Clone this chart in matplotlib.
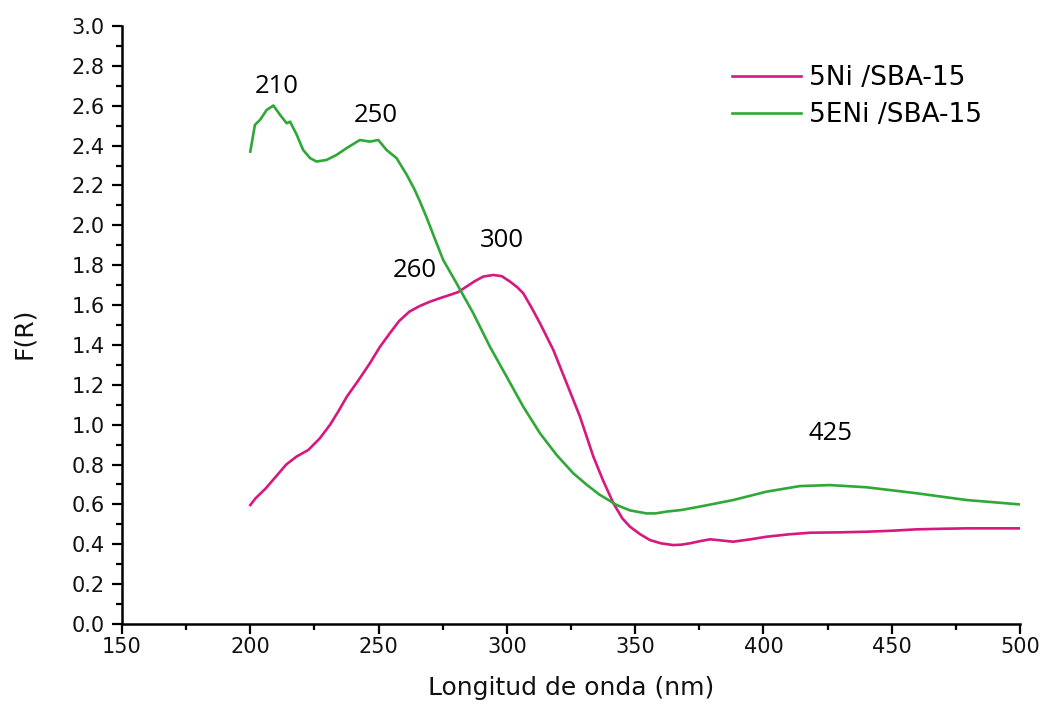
import matplotlib
matplotlib.use("Agg")
import matplotlib.pyplot as plt
from matplotlib.ticker import MultipleLocator, FormatStrFormatter

# Wavelength (nm) and Kubelka-Munk function F(R) for each sample
wl_ni = [200, 202, 206, 210, 214, 218, 222.6, 227, 231, 234, 237.6, 242, 246.6,
         250.5, 254.4, 258, 262, 266, 270, 274, 277.8, 281, 284.3, 287.5, 290.8,
         294.7, 298, 301.2, 304, 306.4, 309.5, 312.9, 318.1, 323.3, 328.5, 333.7,
         337.5, 341.5, 345, 348, 352, 355.8, 360, 364.9, 368, 371.4, 375, 379.2,
         383, 388.2, 395, 401.2, 410, 418.1, 430, 440.2, 450, 459.7, 470, 479.2,
         490, 500]
fr_ni = [0.597, 0.63, 0.68, 0.74, 0.80, 0.84, 0.873, 0.93, 0.998, 1.06, 1.14, 1.22,
         1.308, 1.39, 1.459, 1.52, 1.567, 1.595, 1.617, 1.635, 1.651, 1.665, 1.693,
         1.72, 1.743, 1.751, 1.745, 1.718, 1.69, 1.659, 1.59, 1.509, 1.375, 1.208,
         1.04, 0.84, 0.72, 0.606, 0.53, 0.488, 0.45, 0.421, 0.405, 0.396, 0.398,
         0.405, 0.415, 0.425, 0.42, 0.413, 0.425, 0.438, 0.45, 0.458, 0.46, 0.463,
         0.468, 0.475, 0.478, 0.48, 0.48, 0.48]

wl_eni = [200, 201.8, 203.8, 206.4, 209, 211.6, 214.2, 215.5, 218.1, 220.6, 223.3,
          225.8, 229.7, 233.6, 237.5, 242.7, 246.6, 249.9, 253.1, 257, 261, 264,
          266.1, 268.7, 272, 275.2, 280.4, 286.9, 293.4, 299.9, 306.4, 312.9, 319.4,
          325.9, 331, 336, 342.8, 348, 354.4, 358, 362.2, 368, 375.2, 388.2, 401.2,
          414.2, 425.9, 440.2, 459.7, 479.2, 500]
fr_eni = [2.37, 2.504, 2.529, 2.579, 2.601, 2.554, 2.512, 2.52, 2.454, 2.378, 2.337,
          2.32, 2.328, 2.353, 2.387, 2.428, 2.42, 2.428, 2.378, 2.337, 2.253, 2.18,
          2.12, 2.04, 1.93, 1.826, 1.709, 1.559, 1.391, 1.241, 1.09, 0.957, 0.848,
          0.756, 0.70, 0.65, 0.597, 0.57, 0.555, 0.555, 0.564, 0.572, 0.589, 0.622,
          0.664, 0.692, 0.697, 0.686, 0.656, 0.622, 0.60]

series_labels = ["5Ni /SBA-15", "5ENi /SBA-15"]
series_colors = ["#d6187f", "#2ea836"]

# Band positions marked on the spectra: (text, x, y)
band_labels = [("210", 210.5, 2.664), ("250", 249.0, 2.519), ("260", 264.2, 1.741),
               ("300", 298.0, 1.892), ("425", 426.3, 0.923)]

plt.rcParams["font.family"] = ["DejaVu Sans"]

fig = plt.figure(figsize=(10.42, 7.06), dpi=100)
ax = fig.add_axes([0.1171, 0.1161, 0.8618, 0.8471])

ax.plot(wl_ni, fr_ni, color=series_colors[0], lw=1.9, label=series_labels[0])
ax.plot(wl_eni, fr_eni, color=series_colors[1], lw=1.9, label=series_labels[1])

for txt, x, y in band_labels:
    ax.text(x, y, txt, ha="center", va="baseline", fontsize=18.5,
            family=["Open Sans", "DejaVu Sans"], color="black")

ax.set_xlim(150, 500)
ax.set_ylim(0, 3.0)
ax.xaxis.set_major_locator(MultipleLocator(50))
ax.xaxis.set_minor_locator(MultipleLocator(25))
ax.yaxis.set_major_locator(MultipleLocator(0.2))
ax.yaxis.set_minor_locator(MultipleLocator(0.1))
ax.yaxis.set_major_formatter(FormatStrFormatter("%.1f"))

for side in ("top", "right"):
    ax.spines[side].set_visible(False)
for side in ("left", "bottom"):
    ax.spines[side].set_linewidth(1.8)

ax.tick_params(axis="both", which="major", direction="out", length=7.5, width=1.6,
               labelsize=15, labelcolor="#111111")
ax.tick_params(axis="both", which="minor", direction="out", length=4.5, width=1.6)
ax.tick_params(axis="x", which="major", pad=1.5)
ax.tick_params(axis="y", which="major", pad=5)

fig.text(24 / 1042, 1 - 333 / 706, "F(R)", rotation=90, ha="center", va="center",
         fontsize=18, color="#111111")
fig.text(571 / 1042, 1 - 688 / 706, "Longitud de onda (nm)", ha="center",
         va="center", fontsize=18, color="#111111")

ax.legend(loc="upper left", bbox_to_anchor=(732 / 1042, 1 - 65 / 706),
          bbox_transform=fig.transFigure, frameon=False, fontsize=19,
          handlelength=2.6, handletextpad=0.3, labelspacing=0.42,
          borderpad=0.0, borderaxespad=0.0)

fig.savefig("out.png", dpi=100)
